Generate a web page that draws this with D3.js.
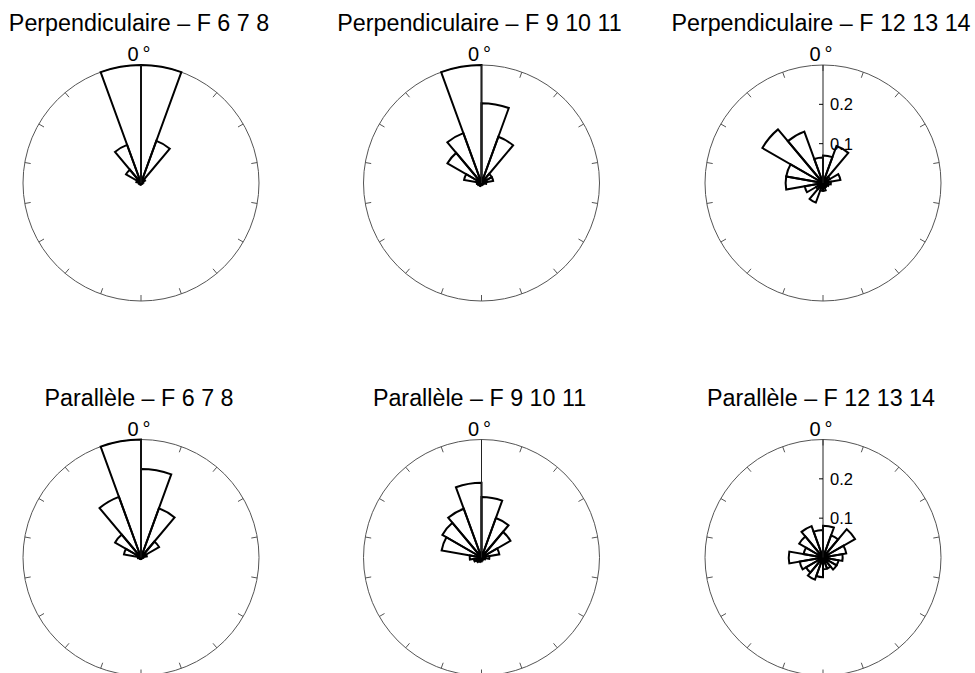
<!DOCTYPE html>
<html>
<head>
<meta charset="utf-8">
<script src="https://cdn.jsdelivr.net/npm/d3@7"></script>
<style>
  html, body { margin: 0; padding: 0; background: #fff; }
  svg { display: block; }
  text { font-family: "Liberation Sans", Arial, Helvetica, sans-serif; fill: #000; }
</style>
</head>
<body>
<svg id="chart" width="975" height="673"></svg>
<script>
// ---- data ----
// 18 direction classes of 20°, measured clockwise from 0° (top)
const binStarts = [0, 20, 40, 60, 80, 100, 120, 140, 160, 180, 200, 220, 240, 260, 280, 300, 320, 340];
const binWidth = 20;

const titles = [
  "Perpendiculaire \u2013 F 6 7 8",
  "Perpendiculaire \u2013 F 9 10 11",
  "Perpendiculaire \u2013 F 12 13 14",
  "Parall\u00e8le \u2013 F 6 7 8",
  "Parall\u00e8le \u2013 F 9 10 11",
  "Parall\u00e8le \u2013 F 12 13 14"
];

// relative frequencies per class
const perpF678   = [0.30, 0.114, 0.012, 0.006, 0.004, 0.003, 0.002, 0.002, 0.003, 0.004, 0.004, 0.004, 0.005, 0.006, 0.012, 0.044, 0.103, 0.30];
const perpF91011 = [0.203, 0.125, 0.03, 0.03, 0.012, 0.006, 0.004, 0.004, 0.005, 0.006, 0.008, 0.008, 0.01, 0.012, 0.045, 0.10, 0.135, 0.30];
const perpF121314 = [0.07, 0.10, 0.02, 0.045, 0.02, 0.015, 0.012, 0.012, 0.02, 0.02, 0.053, 0.02, 0.047, 0.095, 0.095, 0.178, 0.139, 0.065];
const paraF678   = [0.225, 0.133, 0.053, 0.015, 0.006, 0.003, 0.002, 0.002, 0.003, 0.004, 0.004, 0.004, 0.005, 0.008, 0.044, 0.076, 0.164, 0.30];
const paraF91011 = [0.154, 0.107, 0.085, 0.046, 0.02, 0.01, 0.006, 0.006, 0.008, 0.01, 0.012, 0.015, 0.02, 0.03, 0.103, 0.115, 0.132, 0.19];
const paraF121314 = [0.081, 0.06, 0.094, 0.06, 0.05, 0.04, 0.04, 0.03, 0.03, 0.05, 0.06, 0.05, 0.06, 0.087, 0.05, 0.07, 0.085, 0.07];

const radialTicks = [0.1, 0.2];
const showRadialLabels = [false, false, true, false, false, true];
const circleTickAngles = [0, 20, 40, 60, 80, 100, 120, 140, 160, 180, 200, 220, 240, 260, 280, 300, 320, 340];

const panelData = [perpF678, perpF91011, perpF121314, paraF678, paraF91011, paraF121314];

// ---- layout ----
const R = 118;
const colX = [141, 481.5, 823];
const rowY = [183, 557.5];

const svg = d3.select("#chart");
const r = d3.scaleLinear().domain([0, 0.3]).range([0, R]);
const toRad = d => d * Math.PI / 180;

panelData.forEach((vals, p) => {
  const cx = colX[p % 3], cy = rowY[Math.floor(p / 3)];
  const g = svg.append("g").attr("transform", `translate(${cx},${cy})`);

  // title
  g.append("text")
    .attr("x", -2).attr("y", -R - 34)
    .attr("text-anchor", "middle")
    .style("font-size", "23.3px")
    .text(titles[p]);

  // 0° label
  const zl = g.append("text")
    .attr("x", -2).attr("y", -R - 4)
    .attr("text-anchor", "middle")
    .style("font-size", "20px");
  zl.append("tspan").text("0");
  zl.append("tspan").attr("dx", 4).text("\u00b0");

  // outer circle
  g.append("circle").attr("r", R)
    .attr("fill", "none").attr("stroke", "#555").attr("stroke-width", 1);

  // circle ticks (inward)
  g.selectAll("line.ctick").data(circleTickAngles).enter().append("line")
    .attr("class", "ctick")
    .attr("x1", d => Math.sin(toRad(d)) * R)
    .attr("y1", d => -Math.cos(toRad(d)) * R)
    .attr("x2", d => Math.sin(toRad(d)) * (R - 6))
    .attr("y2", d => -Math.cos(toRad(d)) * (R - 6))
    .attr("stroke", "#555").attr("stroke-width", 1);

  // sectors
  const arc = d3.arc().innerRadius(0);
  g.selectAll("path.sector").data(binStarts.map((b, i) => ({ b, v: vals[i] }))).enter()
    .append("path")
    .attr("class", "sector")
    .attr("d", d => arc({ outerRadius: r(d.v), startAngle: toRad(d.b), endAngle: toRad(d.b + binWidth) }))
    .attr("fill", "none").attr("stroke", "#000").attr("stroke-width", 2)
    .attr("stroke-linejoin", "miter");

  // radial axis (vertical line to 0°)
  g.append("line").attr("x1", 0).attr("y1", 0).attr("x2", 0).attr("y2", -R)
    .attr("stroke", "#222").attr("stroke-width", 1);

  if (showRadialLabels[p]) {
    radialTicks.forEach(t => {
      g.append("line").attr("x1", -4).attr("x2", 0)
        .attr("y1", -r(t)).attr("y2", -r(t))
        .attr("stroke", "#000").attr("stroke-width", 1);
      g.append("text").attr("x", 7).attr("y", -r(t) + 6)
        .style("font-size", "16.5px").text(d3.format(".1f")(t));
    });
  }
});
</script>
</body>
</html>
